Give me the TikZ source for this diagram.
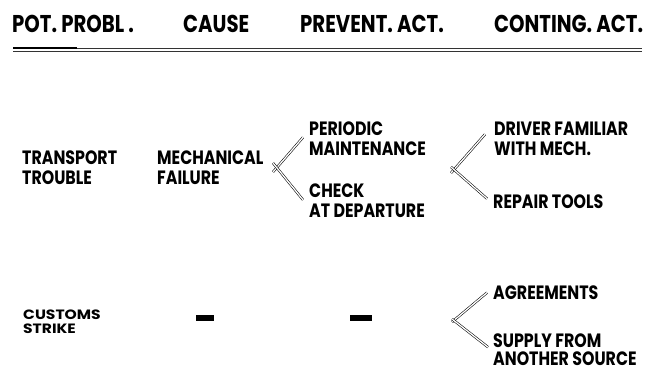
\documentclass[tikz,border=0pt]{standalone}
\usepackage{fontspec}
\newfontfamily\lbl{Poppins}[FakeStretch=0.82]
\newfontfamily\lblhead{Poppins}[FakeStretch=0.81]
\newfontfamily\lblwide{Poppins}[FakeStretch=1.15]
\begin{document}
\begin{tikzpicture}[x=1pt,y=-1pt,
  head/.style={anchor=north west, inner sep=0pt,
    font=\lblhead\bfseries\fontsize{24.3}{26}\selectfont},
  item/.style={anchor=north west, inner sep=0pt, align=left,
    font=\lbl\bfseries\fontsize{19.3}{19.5}\selectfont},
  smallitem/.style={anchor=north west, inner sep=0pt, align=left,
    font=\lblwide\bfseries\fontsize{13.5}{14}\selectfont},
  nil/.style={inner sep=0pt, fill=black, minimum height=6pt},
  conn/.style={double, line width=0.55pt, double distance=1.3pt},
  rule/.style={draw=black!80, line width=0.7pt},
]
\fill[white] (0,0) rectangle (647,374);
\useasboundingbox (0,0) rectangle (647,374);

% column headings
\node[head] (h1) at (12,15)  {POT. PROBL\,.};
\node[head] (h2) at (183,15) {CAUSE};
\node[head] (h3) at (300,15) {PREVENT. ACT.};
\node[head] (h4) at (494,15) {CONTING. ACT.};

% double rule under the headings, heavier at its left end
\coordinate (rl) at (13,48);
\coordinate (rr) at (642,48);
\coordinate (sl) at (13,51);
\coordinate (sr) at (642,51);
\coordinate (rk) at (77,48);
\draw[rule] (rl) -- (rr);
\draw[rule, line width=0.6pt] (sl) -- (sr);
\draw[line width=1.6pt] (rl) -- (rk);

% first problem
\node[item] (tt) at (22,151)  {TRANSPORT\\TROUBLE};
\node[item] (mf) at (157,151) {MECHANICAL\\FAILURE};
\node[item] (pm) at (309,122) {PERIODIC\\MAINTENANCE};
\node[item] (ca) at (309,184) {CHECK\\AT DEPARTURE};
\node[item] (df) at (494,122) {DRIVER FAMILIAR\\WITH MECH.};
\node[item] (rt) at (493,195) {REPAIR TOOLS};

\coordinate (f1) at (273,167.5);
\coordinate (f2) at (451,170);
\draw[conn] ([yshift=-4.5pt]f1) -- ([shift={(-6,-1.5)}]pm.west);
\draw[conn] ([yshift=4.5pt]f1)  -- ([shift={(-6,-1)}]ca.west);
\draw[conn] ([yshift=-3pt]f2)   -- ([shift={(-9,-4.5)}]df.west);
\draw[conn] ([yshift=3pt]f2)    -- ([shift={(-6,-3.5)}]rt.west);

% second problem
\node[smallitem] (cs) at (23,310) {CUSTOMS\\STRIKE};
\node[nil, minimum width=18pt] (d1) at (205,318) {};
\node[nil, minimum width=22pt] (d2) at (361,318) {};
\node[item] (ag) at (493,286) {AGREEMENTS};
\node[item] (sa) at (493,334) {SUPPLY FROM\\[-1.5pt]ANOTHER SOURCE};

\coordinate (f3) at (452,320.5);
\draw[conn] ([yshift=-1.5pt]f3) -- ([shift={(-6,-0.5)}]ag.west);
\draw[conn] ([yshift=1.5pt]f3)  -- ([shift={(-5,-3)}]sa.west);
\end{tikzpicture}
\end{document}
